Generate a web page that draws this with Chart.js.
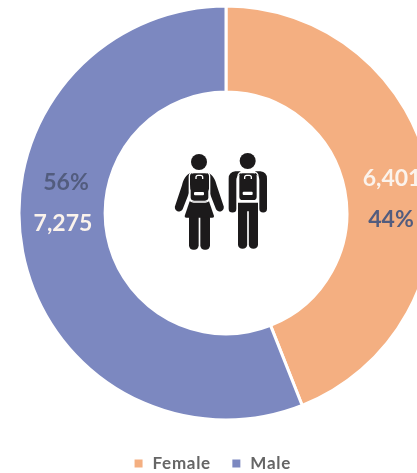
<!DOCTYPE html>
<html>
<head>
<meta charset="utf-8">
<style>
  html, body { margin: 0; padding: 0; background: #fff; overflow: hidden; }
  #wrap { position: relative; width: 417px; height: 473px; }
  #icon { position: absolute; left: 150px; top: 130px; width: 150px; height: 140px; }
</style>
<script src="https://cdn.jsdelivr.net/npm/chart.js@4"></script>
</head>
<body>
<div id="wrap">
  <canvas id="chart" width="417" height="473"></canvas>
  <!-- Two students wearing backpacks -->
  <svg id="icon" viewBox="0 0 450 420" xmlns="http://www.w3.org/2000/svg">
    <g fill="#1c1a1b">
      <circle cx="147" cy="96" r="24"/>
      <path d="M126 127 C106 134 100 150 96 166 L76 226 A12 12 0 0 0 98 238 L122 176 Z"/>
      <path d="M170 127 C190 134 196 150 200 166 L220 226 A12 12 0 0 1 198 238 L174 176 Z"/>
      <rect x="117" y="250" width="29" height="109" rx="13"/>
      <rect x="151" y="250" width="29" height="109" rx="13"/>
      <path d="M119 214 H177 L192 258 Q193 263 187 263 H109 Q103 263 104 258 Z"/>
      <rect x="122" y="130" width="53" height="82" rx="10"/>
      <circle cx="293" cy="93" r="24"/>
      <path d="M272 124 H256 Q236 126 236 146 V236 A11 11 0 0 0 259 236 V150 Q259 138 272 133 Z"/>
      <path d="M315 124 H331 Q351 126 351 146 V236 A11 11 0 0 1 328 236 V150 Q328 138 315 133 Z"/>
      <path d="M264 218 H324 V345 A14 14 0 0 1 296.500 345 V244 H291.500 V345 A14 14 0 0 1 264 345 Z"/>
      <rect x="268" y="130" width="52" height="80" rx="10"/>
    </g>
    <g fill="none" stroke="#fff">
      <rect x="118" y="126" width="61" height="90" rx="13" stroke-width="4"/>
      <rect x="264" y="126" width="60" height="88" rx="13" stroke-width="4"/>
      <path d="M138 147 V142 Q138 136 144 136 H152 Q158 136 158 142 V147" stroke-width="4"/>
      <path d="M284 147 V142 Q284 136 290 136 H298 Q304 136 304 142 V147" stroke-width="4"/>
    </g>
    <rect x="132" y="186" width="30" height="10" rx="3" fill="#fff"/>
    <rect x="278" y="185" width="30" height="10" rx="3" fill="#fff"/>
  </svg>
</div>
<script>
const categories = ['Female', 'Male'];
const shares = [44, 56];
const countLabels = ['6,401', '7,275'];
const shareLabels = ['44%', '56%'];
const sliceColors = ['#F4AF81', '#7C88C0'];

// Legend text is set slightly spaced; moves it lower and back to the page centre
const legendStyling = {
  id: 'legendStyling',
  beforeLayout(chart) { chart.ctx.letterSpacing = '0.7px'; },
  afterLayout(chart) {
    chart.legend.top += 9;
    chart.legend.bottom += 9;
    chart.legend.left -= 14;
    chart.legend.right -= 14;
  },
  beforeDraw(chart) { chart.ctx.letterSpacing = '0.7px'; }
};

// Places the count and share text over each ring segment
const ringLabels = {
  id: 'ringLabels',
  afterDatasetsDraw(chart) {
    const arcs = chart.getDatasetMeta(0).data;
    const ctx = chart.ctx;
    const nudges = [
      { count: [5, -4], share: [4, 37] },
      { count: [-2, -20], share: [1, -61] }
    ];
    ctx.save();
    ctx.letterSpacing = '0px';
    ctx.textAlign = 'center';
    ctx.textBaseline = 'middle';
    ctx.font = 'bold 23px Lato, sans-serif';
    arcs.forEach((arc, i) => {
      const mid = arc.getCenterPoint();
      ctx.fillStyle = '#FBF3EC';
      ctx.fillText(countLabels[i], mid.x + nudges[i].count[0], mid.y + nudges[i].count[1]);
      ctx.fillStyle = '#525C7E';
      ctx.fillText(shareLabels[i], mid.x + nudges[i].share[0], mid.y + nudges[i].share[1]);
    });
    ctx.restore();
  }
};

new Chart(document.getElementById('chart'), {
  type: 'doughnut',
  data: {
    labels: categories,
    datasets: [{
      data: shares,
      backgroundColor: sliceColors,
      borderColor: '#fff',
      borderWidth: 3
    }]
  },
  plugins: [legendStyling, ringLabels],
  options: {
    responsive: false,
    animation: false,
    radius: 207,
    cutout: '58.4%',
    layout: { padding: { left: 35, top: 0, right: 0, bottom: 0 } },
    plugins: {
      tooltip: { enabled: false },
      legend: {
        position: 'bottom',
        labels: {
          boxWidth: 11,
          boxHeight: 11,
          padding: 20,
          color: '#666666',
          font: { family: 'Lato, sans-serif', size: 17, weight: 'bold' }
        }
      }
    }
  }
});
</script>
</body>
</html>
